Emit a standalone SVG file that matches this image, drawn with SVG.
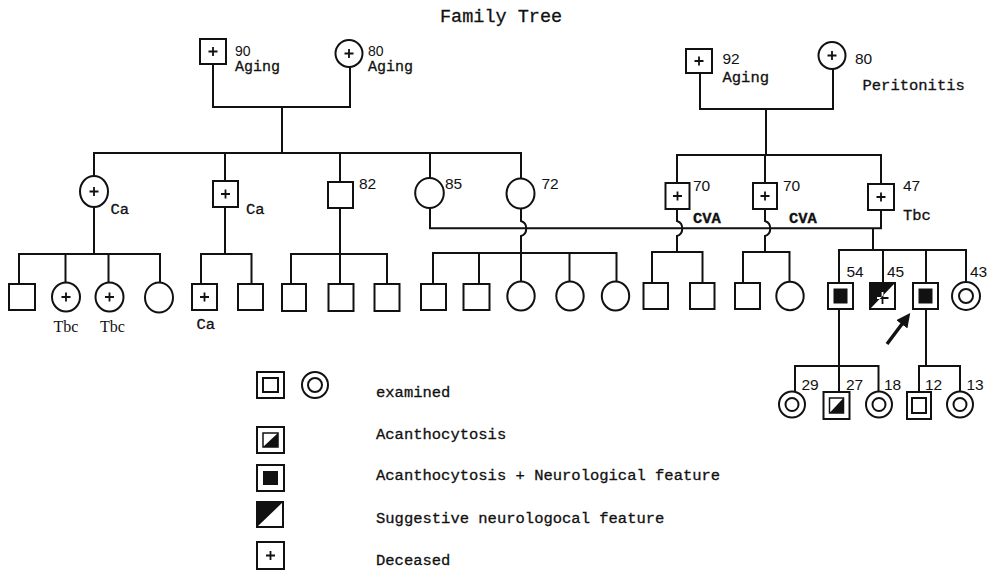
<svg xmlns="http://www.w3.org/2000/svg" width="991" height="574" viewBox="0 0 991 574">
<style>
.s{fill:#fff;stroke:#111;stroke-width:2}
.l{fill:none;stroke:#111;stroke-width:2}
.f{fill:#111}
.t{font-family:"Liberation Mono","Courier New",monospace;font-size:15.5px;fill:#111;stroke:#111;stroke-width:0.3}
.n{font-family:"Liberation Sans",Arial,sans-serif;font-size:15.5px;fill:#111}
.r{font-family:"Liberation Serif","Times New Roman",serif;font-size:16px;fill:#111}
.b{font-weight:bold}
</style>
<defs>
<path id="pl" d="M-4.5 0H4.5M0-4.5V4.5" stroke="#111" stroke-width="1.8" fill="none"/>
<marker id="ah" viewBox="0 0 10 10" refX="2" refY="5" markerWidth="4" markerHeight="4" orient="auto" markerUnits="strokeWidth">
<path d="M0 0L10 5L0 10z" fill="#111"/>
</marker>
<clipPath id="tri45"><polygon points="870,283 895,283 870,309"/></clipPath>
</defs>
<rect width="991" height="574" fill="#fff"/>
<text x="440" y="22" class="t" style="font-size:18.5px">Family Tree</text>

<g id="connectors" class="l">
<path d="M213 64V107H350V67M282 107V153"/>
<path d="M700 73V109H833V69M766 109V155"/>
<path d="M94 176V153H521V178.5M225 153V181M340 153V182M430 153V178"/>
<path d="M677 183V155H881V184M765 155V183"/>
<path d="M430 208V228.3H881V210M873 228.3V250"/>
<path d="M839 283V250H966V282M883 250V283M926 250V283"/>
<path d="M94 207V254M19 284V254H160V282.5M65.5 254V282.5M108.5 254V282.5"/>
<path d="M225 207V254M201 284V254H251.5V284"/>
<path d="M340 208V254M291 284V254H387V284M340 254V284"/>
<path d="M521 208.5V221C528 223 528 234 521 236V253M433 284V253H616.5V281.5M479 253V284M521 253V281.5M569.5 253V281.5"/>
<path d="M677 209V221C684 223 684 234 677 236V252M652 284V252H702.5V284"/>
<path d="M765 209V221C772 223 772 234 765 236V252M743 284V252H789.5V282"/>
<path d="M839 309V366M795 391.5V366H878.5V391.5M839 366V392"/>
<path d="M926 309V366M919 392V366H960V391.5"/>
<path d="M887 344L903.5 322" stroke-width="3.5" marker-end="url(#ah)"/>
</g>

<g id="gen1-father-left"><rect x="200" y="39" width="26" height="25" class="s"/><use href="#pl" x="213" y="51.5"/><text x="235" y="55.5" class="n" style="font-size:14px">90</text><text x="235" y="71" class="t" style="font-size:15px">Aging</text></g>
<g id="gen1-mother-left"><circle cx="349" cy="53.5" r="13.5" class="s"/><use href="#pl" x="349" y="53.5"/><text x="368" y="55.5" class="n" style="font-size:14px">80</text><text x="368" y="71" class="t" style="font-size:15px">Aging</text></g>
<g id="gen1-father-right"><rect x="686" y="49" width="26" height="24" class="s"/><use href="#pl" x="699" y="61"/><text x="722.5" y="63.5" class="n">92</text><text x="722.5" y="82" class="t">Aging</text></g>
<g id="gen1-mother-right"><circle cx="832" cy="55.5" r="13.5" class="s"/><use href="#pl" x="832" y="55.5"/><text x="855" y="63.5" class="n">80</text><text x="862.5" y="90" class="t">Peritonitis</text></g>

<g id="gen2-ca-f"><ellipse cx="94" cy="191.5" rx="14" ry="15.5" class="s"/><use href="#pl" x="94" y="191.5"/><text x="110.5" y="214" class="t">Ca</text></g>
<g id="gen2-ca-m"><rect x="213" y="181" width="25" height="26" class="s"/><use href="#pl" x="225.5" y="194"/><text x="246" y="214" class="t">Ca</text></g>
<g id="gen2-82"><rect x="328" y="182" width="25" height="26" class="s"/><text x="359" y="189" class="n">82</text></g>
<g id="gen2-85"><ellipse cx="429.5" cy="193" rx="14.3" ry="15" class="s"/><text x="445" y="189" class="n">85</text></g>
<g id="gen2-72"><ellipse cx="520.5" cy="193.5" rx="14" ry="15" class="s"/><text x="541.5" y="189" class="n">72</text></g>
<g id="gen2-70a"><rect x="665.5" y="183" width="24" height="26" class="s"/><use href="#pl" x="677.5" y="196"/><text x="693" y="190.5" class="n">70</text><text x="693" y="222.5" class="t b">CVA</text></g>
<g id="gen2-70b"><rect x="753" y="183" width="24" height="26" class="s"/><use href="#pl" x="765" y="196"/><text x="783" y="190.5" class="n">70</text><text x="789" y="222.5" class="t b">CVA</text></g>
<g id="gen2-47"><rect x="868" y="184" width="26" height="26" class="s"/><use href="#pl" x="881" y="197"/><text x="903" y="190.5" class="n">47</text><text x="903" y="220" class="t">Tbc</text></g>

<g id="g3-a1"><rect x="9" y="284" width="26" height="26" class="s"/></g>
<g id="g3-a2"><ellipse cx="66" cy="297" rx="14" ry="14.5" class="s"/><use href="#pl" x="66" y="297"/><text x="53.5" y="332" class="r">Tbc</text></g>
<g id="g3-a3"><ellipse cx="109.5" cy="297" rx="14" ry="14.5" class="s"/><use href="#pl" x="109.5" y="297"/><text x="100" y="332" class="r">Tbc</text></g>
<g id="g3-a4"><ellipse cx="159" cy="297.5" rx="14" ry="15" class="s"/></g>
<g id="g3-b1"><rect x="192" y="284" width="25" height="26" class="s"/><use href="#pl" x="204.5" y="297"/><text x="196.5" y="328.5" class="t">Ca</text></g>
<g id="g3-b2"><rect x="238" y="284" width="25" height="26" class="s"/></g>
<g id="g3-c1"><rect x="282" y="284" width="24" height="27" class="s"/></g>
<g id="g3-c2"><rect x="328.5" y="284" width="25" height="27" class="s"/></g>
<g id="g3-c3"><rect x="374.5" y="284" width="25" height="27" class="s"/></g>
<g id="g3-d1"><rect x="421" y="284" width="25" height="26" class="s"/></g>
<g id="g3-d2"><rect x="463.5" y="284" width="26" height="26" class="s"/></g>
<g id="g3-d3"><ellipse cx="521" cy="296" rx="13.7" ry="14.5" class="s"/></g>
<g id="g3-d4"><ellipse cx="570" cy="296" rx="13.7" ry="14.5" class="s"/></g>
<g id="g3-d5"><ellipse cx="615.5" cy="296" rx="13.7" ry="14.5" class="s"/></g>
<g id="g3-e1"><rect x="643.5" y="283" width="24.5" height="26" class="s"/></g>
<g id="g3-e2"><rect x="690" y="283" width="24.5" height="26" class="s"/></g>
<g id="g3-f1"><rect x="735" y="283" width="25" height="26" class="s"/></g>
<g id="g3-f2"><ellipse cx="790" cy="296" rx="13.7" ry="14.2" class="s"/></g>
<g id="g3-54"><rect x="828" y="283" width="25" height="26" class="s"/><rect x="833.5" y="288.5" width="14" height="15" class="f"/><text x="846.5" y="276.5" class="n">54</text></g>
<g id="g3-45"><rect x="870" y="283" width="25" height="26" class="s"/><polygon points="870,283 895,283 870,309" class="f"/><path d="M877 298H888.5M882.5 292V304" stroke="#111" stroke-width="1.8"/><path d="M877 298H888.5M882.5 292V304" stroke="#fff" stroke-width="1.8" clip-path="url(#tri45)"/><text x="887" y="276.5" class="n">45</text></g>
<g id="g3-proband"><rect x="913" y="283" width="25" height="26" class="s"/><rect x="918.5" y="288.5" width="14" height="15" class="f"/></g>
<g id="g3-43"><circle cx="966" cy="296" r="14" class="s"/><circle cx="966" cy="296" r="7" class="s"/><text x="970" y="276.5" class="n">43</text></g>

<g id="g4-29"><circle cx="792" cy="404.5" r="13" class="s"/><circle cx="792" cy="404.5" r="6.5" class="s"/><text x="801.5" y="389.5" class="n">29</text></g>
<g id="g4-27"><rect x="823.5" y="392" width="26" height="27" class="s"/><rect x="829.5" y="398" width="14" height="15" class="s" style="stroke-width:1.5"/><polygon points="843.5,398 843.5,413 829.5,413" class="f"/><text x="846" y="389.5" class="n">27</text></g>
<g id="g4-18"><circle cx="879" cy="404.5" r="13" class="s"/><circle cx="879" cy="404.5" r="6.5" class="s"/><text x="884" y="389.5" class="n">18</text></g>
<g id="g4-12"><rect x="907" y="392" width="24" height="27" class="s"/><rect x="912" y="398" width="14" height="15" class="s"/><text x="925" y="389.5" class="n">12</text></g>
<g id="g4-13"><circle cx="960" cy="404.5" r="13" class="s"/><circle cx="960" cy="404.5" r="6.5" class="s"/><text x="966.5" y="389.5" class="n">13</text></g>

<g id="legend">
<g id="leg-examined"><rect x="257" y="372" width="27" height="26" class="s"/><rect x="263" y="378" width="15" height="14" class="s"/><circle cx="315" cy="385" r="13" class="s"/><circle cx="315" cy="385" r="7" class="s"/><text x="376" y="397" class="t">examined</text></g>
<g id="leg-acantho"><rect x="257" y="427" width="27" height="26" class="s"/><rect x="263" y="433" width="15" height="14" class="s" style="stroke-width:1.5"/><polygon points="278,433 278,447 263,447" class="f"/><text x="376" y="439" class="t">Acanthocytosis</text></g>
<g id="leg-acantho-neuro"><rect x="257" y="465" width="27" height="26" class="s"/><rect x="263" y="471" width="15" height="14" class="f"/><text x="376" y="480" class="t">Acanthocytosis + Neurological feature</text></g>
<g id="leg-suggestive"><rect x="257" y="502" width="26" height="25" class="s"/><polygon points="257,502 283,502 257,527" class="f"/><text x="376" y="523" class="t">Suggestive neurologocal feature</text></g>
<g id="leg-deceased"><rect x="257" y="542" width="27" height="27" class="s"/><use href="#pl" x="270.5" y="555.5"/><text x="376" y="565" class="t">Deceased</text></g>
</g>
</svg>
